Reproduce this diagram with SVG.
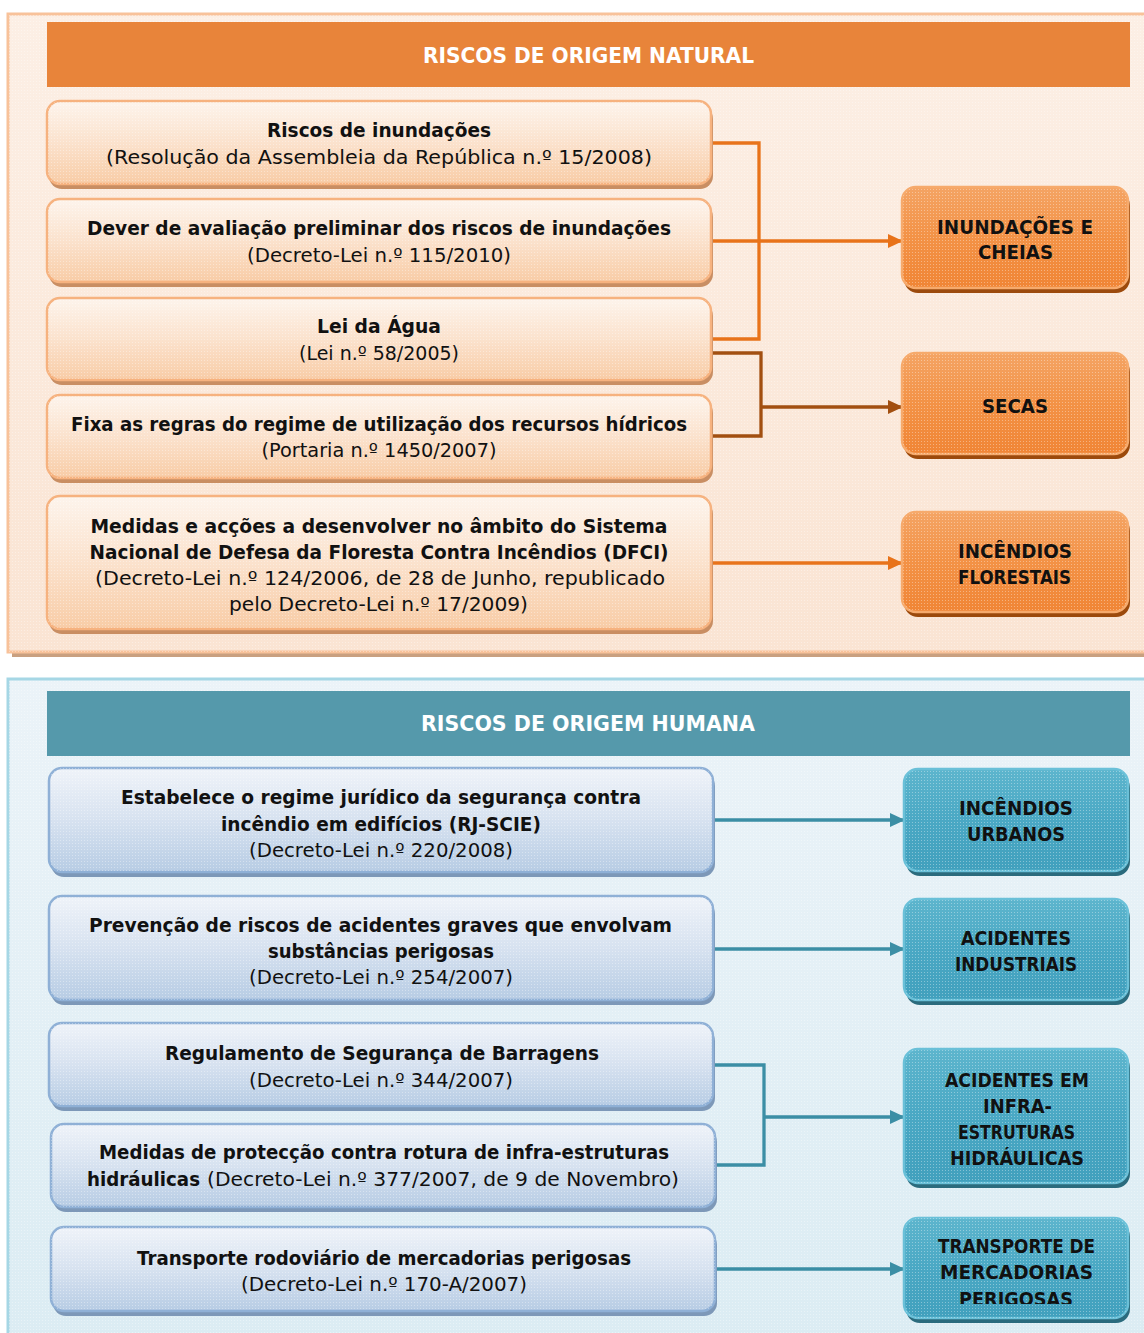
<svg xmlns="http://www.w3.org/2000/svg" width="1144" height="1333" viewBox="0 0 1144 1333">
<defs>
<style>
text{font-family:"DejaVu Sans","Liberation Sans",sans-serif;fill:#111;}
.b{font-weight:bold;font-size:19px;}
.r{font-weight:normal;font-size:19px;}
.lbl{font-weight:bold;font-size:20px;}
.ttl{font-weight:bold;font-size:21px;fill:#fff;}
.lo{fill:url(#gLO);stroke:#f6b27f;stroke-width:2.5;}
.lo-s{fill:#c98e63;}
.lb{fill:url(#gLB);stroke:#8fb0d6;stroke-width:2.5;}
.lb-s{fill:#7d98b8;}
.ro{fill:url(#gRO);stroke:#f6aa6c;stroke-width:2.5;}
.ro-s{fill:#9c4a0c;}
.rb{fill:url(#gRB);stroke:#6ac0d8;stroke-width:2.5;}
.rb-s{fill:#2b6b7d;}
.tex{fill:url(#dots);}
.co{fill:none;stroke:#e8731a;stroke-width:3.3;}
.cb{fill:none;stroke:#a24f10;stroke-width:3.3;}
.ct{fill:none;stroke:#3b8ea5;stroke-width:3.3;}
</style>
<linearGradient id="gPT" x1="0" y1="0" x2="0" y2="1"><stop offset="0" stop-color="#fcefe5"/><stop offset="1" stop-color="#fae4d3"/></linearGradient>
<linearGradient id="gPB" x1="0" y1="0" x2="0" y2="1"><stop offset="0" stop-color="#ebf3f8"/><stop offset="1" stop-color="#dbecf3"/></linearGradient>
<linearGradient id="gLO" x1="0" y1="0" x2="0" y2="1"><stop offset="0" stop-color="#fdf4ec"/><stop offset="0.5" stop-color="#fbe2cd"/><stop offset="1" stop-color="#f8cca6"/></linearGradient>
<linearGradient id="gLB" x1="0" y1="0" x2="0" y2="1"><stop offset="0" stop-color="#eff3f9"/><stop offset="0.5" stop-color="#d7e2f0"/><stop offset="1" stop-color="#b7cce4"/></linearGradient>
<linearGradient id="gRO" x1="0" y1="0" x2="0" y2="1"><stop offset="0" stop-color="#f4a464"/><stop offset="0.5" stop-color="#f39246"/><stop offset="1" stop-color="#f08535"/></linearGradient>
<linearGradient id="gRB" x1="0" y1="0" x2="0" y2="1"><stop offset="0" stop-color="#5db5cd"/><stop offset="0.5" stop-color="#4aa8c4"/><stop offset="1" stop-color="#41a0bd"/></linearGradient>
<pattern id="dots" width="3" height="3" patternUnits="userSpaceOnUse"><rect x="0" y="0" width="1" height="1" fill="#ffffff" fill-opacity="0.35"/></pattern>
<marker id="aO" markerUnits="userSpaceOnUse" markerWidth="16" markerHeight="16" refX="15" refY="8" orient="auto"><path d="M0,1 L15,8 L0,15 z" fill="#e8731a"/></marker>
<marker id="aB" markerUnits="userSpaceOnUse" markerWidth="16" markerHeight="16" refX="15" refY="8" orient="auto"><path d="M0,1 L15,8 L0,15 z" fill="#a24f10"/></marker>
<marker id="aT" markerUnits="userSpaceOnUse" markerWidth="16" markerHeight="16" refX="15" refY="8" orient="auto"><path d="M0,1 L15,8 L0,15 z" fill="#3b8ea5"/></marker>
<clipPath id="clipTr"><rect x="904" y="1218" width="226" height="86"/></clipPath>
</defs>

<rect x="0" y="0" width="1144" height="1333" fill="#ffffff"/>

<g id="panel-natural">
<rect x="12" y="650" width="1140" height="7" fill="#c9a080"/>
<rect x="8" y="14" width="1150" height="638" fill="url(#gPT)" stroke="#f8c29a" stroke-width="3"/>
<rect x="8" y="14" width="1150" height="638" class="tex"/>
</g>
<g id="header-natural">
<rect x="47" y="22" width="1083" height="65" fill="#e8843a"/>
<text class="ttl" x="588.5" y="63" text-anchor="middle" textLength="331" lengthAdjust="spacingAndGlyphs">RISCOS DE ORIGEM NATURAL</text>
</g>

<g id="panel-humana">
<rect x="8" y="679" width="1150" height="670" fill="url(#gPB)" stroke="#a6d7e5" stroke-width="3"/>
<rect x="8" y="679" width="1150" height="670" class="tex"/>
</g>
<g id="header-humana">
<rect x="47" y="691" width="1083" height="65" fill="#5599ab"/>
<text class="ttl" x="588" y="731" text-anchor="middle" textLength="334" lengthAdjust="spacingAndGlyphs">RISCOS DE ORIGEM HUMANA</text>
</g>

<g id="connectors">
<polyline class="co" points="712,143 759,143 759,339 712,339"/>
<line class="co" x1="712" y1="241" x2="903" y2="241" marker-end="url(#aO)"/>
<polyline class="cb" points="712,353 761,353 761,436 712,436"/>
<line class="cb" x1="761" y1="407" x2="903" y2="407" marker-end="url(#aB)"/>
<line class="co" x1="712" y1="563" x2="903" y2="563" marker-end="url(#aO)"/>
<line class="ct" x1="714" y1="820" x2="905" y2="820" marker-end="url(#aT)"/>
<line class="ct" x1="714" y1="949" x2="905" y2="949" marker-end="url(#aT)"/>
<polyline class="ct" points="714,1065 764,1065 764,1165 716,1165"/>
<line class="ct" x1="764" y1="1117" x2="905" y2="1117" marker-end="url(#aT)"/>
<line class="ct" x1="716" y1="1269" x2="905" y2="1269" marker-end="url(#aT)"/>
</g>

<g id="n-inundacoes-res">
<rect class="lo-s" x="49" y="106" width="664" height="83" rx="13"/>
<rect class="lo" x="47" y="101" width="664" height="83" rx="13"/>
<rect class="tex" x="47" y="101" width="664" height="83" rx="13"/>
<text class="b" x="379" y="137" text-anchor="middle" textLength="224" lengthAdjust="spacingAndGlyphs">Riscos de inundações</text>
<text class="r" x="379" y="164" text-anchor="middle" textLength="546" lengthAdjust="spacingAndGlyphs">(Resolução da Assembleia da República n.º 15/2008)</text>
</g>
<g id="n-dever">
<rect class="lo-s" x="49" y="204" width="664" height="83" rx="13"/>
<rect class="lo" x="47" y="199" width="664" height="83" rx="13"/>
<rect class="tex" x="47" y="199" width="664" height="83" rx="13"/>
<text class="b" x="379" y="235" text-anchor="middle" textLength="584" lengthAdjust="spacingAndGlyphs">Dever de avaliação preliminar dos riscos de inundações</text>
<text class="r" x="379" y="262" text-anchor="middle" textLength="264" lengthAdjust="spacingAndGlyphs">(Decreto-Lei n.º 115/2010)</text>
</g>
<g id="n-lei-agua">
<rect class="lo-s" x="49" y="303" width="664" height="82" rx="13"/>
<rect class="lo" x="47" y="298" width="664" height="82" rx="13"/>
<rect class="tex" x="47" y="298" width="664" height="82" rx="13"/>
<text class="b" x="379" y="333" text-anchor="middle" textLength="124" lengthAdjust="spacingAndGlyphs">Lei da Água</text>
<text class="r" x="379" y="360" text-anchor="middle" textLength="160" lengthAdjust="spacingAndGlyphs">(Lei n.º 58/2005)</text>
</g>
<g id="n-fixa">
<rect class="lo-s" x="49" y="400" width="664" height="83" rx="13"/>
<rect class="lo" x="47" y="395" width="664" height="83" rx="13"/>
<rect class="tex" x="47" y="395" width="664" height="83" rx="13"/>
<text class="b" x="379" y="431" text-anchor="middle" textLength="616" lengthAdjust="spacingAndGlyphs">Fixa as regras do regime de utilização dos recursos hídricos</text>
<text class="r" x="379" y="457" text-anchor="middle" textLength="235" lengthAdjust="spacingAndGlyphs">(Portaria n.º 1450/2007)</text>
</g>
<g id="n-dfci">
<rect class="lo-s" x="49" y="501" width="664" height="133" rx="13"/>
<rect class="lo" x="47" y="496" width="664" height="133" rx="13"/>
<rect class="tex" x="47" y="496" width="664" height="133" rx="13"/>
<text class="b" x="379" y="533" text-anchor="middle" textLength="577" lengthAdjust="spacingAndGlyphs">Medidas e acções a desenvolver no âmbito do Sistema</text>
<text class="b" x="379" y="559" text-anchor="middle" textLength="579" lengthAdjust="spacingAndGlyphs">Nacional de Defesa da Floresta Contra Incêndios (DFCI)</text>
<text class="r" x="380" y="585" text-anchor="middle" textLength="570" lengthAdjust="spacingAndGlyphs">(Decreto-Lei n.º 124/2006, de 28 de Junho, republicado</text>
<text class="r" x="378.5" y="611" text-anchor="middle" textLength="299" lengthAdjust="spacingAndGlyphs">pelo Decreto-Lei n.º 17/2009)</text>
</g>

<g id="n-inundacoes-cheias">
<rect class="ro-s" x="904" y="192" width="226" height="101" rx="14"/>
<rect class="ro" x="902" y="187" width="226" height="101" rx="14"/>
<rect class="tex" x="902" y="187" width="226" height="101" rx="14"/>
<text class="lbl" x="1015" y="234" text-anchor="middle" textLength="156" lengthAdjust="spacingAndGlyphs">INUNDAÇÕES E</text>
<text class="lbl" x="1015.5" y="259" text-anchor="middle" textLength="75" lengthAdjust="spacingAndGlyphs">CHEIAS</text>
</g>
<g id="n-secas">
<rect class="ro-s" x="904" y="358" width="226" height="101" rx="14"/>
<rect class="ro" x="902" y="353" width="226" height="101" rx="14"/>
<rect class="tex" x="902" y="353" width="226" height="101" rx="14"/>
<text class="lbl" x="1015" y="413" text-anchor="middle" textLength="66" lengthAdjust="spacingAndGlyphs">SECAS</text>
</g>
<g id="n-incendios-florestais">
<rect class="ro-s" x="904" y="517" width="226" height="100" rx="14"/>
<rect class="ro" x="902" y="512" width="226" height="100" rx="14"/>
<rect class="tex" x="902" y="512" width="226" height="100" rx="14"/>
<text class="lbl" x="1015" y="558" text-anchor="middle" textLength="114" lengthAdjust="spacingAndGlyphs">INCÊNDIOS</text>
<text class="lbl" x="1014.5" y="584" text-anchor="middle" textLength="113" lengthAdjust="spacingAndGlyphs">FLORESTAIS</text>
</g>

<g id="n-rjscie">
<rect class="lb-s" x="51" y="773" width="664" height="104" rx="13"/>
<rect class="lb" x="49" y="768" width="664" height="104" rx="13"/>
<rect class="tex" x="49" y="768" width="664" height="104" rx="13"/>
<text class="b" x="381" y="804" text-anchor="middle" textLength="520" lengthAdjust="spacingAndGlyphs">Estabelece o regime jurídico da segurança contra</text>
<text class="b" x="381" y="831" text-anchor="middle" textLength="320" lengthAdjust="spacingAndGlyphs">incêndio em edifícios (RJ-SCIE)</text>
<text class="r" x="381" y="857" text-anchor="middle" textLength="264" lengthAdjust="spacingAndGlyphs">(Decreto-Lei n.º 220/2008)</text>
</g>
<g id="n-substancias">
<rect class="lb-s" x="51" y="901" width="664" height="104" rx="13"/>
<rect class="lb" x="49" y="896" width="664" height="104" rx="13"/>
<rect class="tex" x="49" y="896" width="664" height="104" rx="13"/>
<text class="b" x="380.5" y="932" text-anchor="middle" textLength="583" lengthAdjust="spacingAndGlyphs">Prevenção de riscos de acidentes graves que envolvam</text>
<text class="b" x="381" y="958" text-anchor="middle" textLength="226" lengthAdjust="spacingAndGlyphs">substâncias perigosas</text>
<text class="r" x="381" y="984" text-anchor="middle" textLength="264" lengthAdjust="spacingAndGlyphs">(Decreto-Lei n.º 254/2007)</text>
</g>
<g id="n-barragens">
<rect class="lb-s" x="51" y="1028" width="664" height="83" rx="13"/>
<rect class="lb" x="49" y="1023" width="664" height="83" rx="13"/>
<rect class="tex" x="49" y="1023" width="664" height="83" rx="13"/>
<text class="b" x="382" y="1060" text-anchor="middle" textLength="434" lengthAdjust="spacingAndGlyphs">Regulamento de Segurança de Barragens</text>
<text class="r" x="381" y="1087" text-anchor="middle" textLength="264" lengthAdjust="spacingAndGlyphs">(Decreto-Lei n.º 344/2007)</text>
</g>
<g id="n-rotura">
<rect class="lb-s" x="53" y="1129" width="664" height="83" rx="13"/>
<rect class="lb" x="51" y="1124" width="664" height="83" rx="13"/>
<rect class="tex" x="51" y="1124" width="664" height="83" rx="13"/>
<text class="b" x="384" y="1159" text-anchor="middle" textLength="570" lengthAdjust="spacingAndGlyphs">Medidas de protecção contra rotura de infra-estruturas</text>
<text class="b" x="87" y="1186" textLength="113" lengthAdjust="spacingAndGlyphs">hidráulicas</text>
<text class="r" x="207" y="1186" textLength="472" lengthAdjust="spacingAndGlyphs">(Decreto-Lei n.º 377/2007, de 9 de Novembro)</text>
</g>
<g id="n-transporte">
<rect class="lb-s" x="53" y="1232" width="664" height="84" rx="13"/>
<rect class="lb" x="51" y="1227" width="664" height="84" rx="13"/>
<rect class="tex" x="51" y="1227" width="664" height="84" rx="13"/>
<text class="b" x="384" y="1265" text-anchor="middle" textLength="494" lengthAdjust="spacingAndGlyphs">Transporte rodoviário de mercadorias perigosas</text>
<text class="r" x="384" y="1291" text-anchor="middle" textLength="286" lengthAdjust="spacingAndGlyphs">(Decreto-Lei n.º 170-A/2007)</text>
</g>

<g id="n-incendios-urbanos">
<rect class="rb-s" x="906" y="774" width="224" height="102" rx="14"/>
<rect class="rb" x="904" y="769" width="224" height="102" rx="14"/>
<rect class="tex" x="904" y="769" width="224" height="102" rx="14"/>
<text class="lbl" x="1016" y="815" text-anchor="middle" textLength="114" lengthAdjust="spacingAndGlyphs">INCÊNDIOS</text>
<text class="lbl" x="1016" y="841" text-anchor="middle" textLength="98" lengthAdjust="spacingAndGlyphs">URBANOS</text>
</g>
<g id="n-acidentes-industriais">
<rect class="rb-s" x="906" y="904" width="224" height="101" rx="14"/>
<rect class="rb" x="904" y="899" width="224" height="101" rx="14"/>
<rect class="tex" x="904" y="899" width="224" height="101" rx="14"/>
<text class="lbl" x="1016" y="945" text-anchor="middle" textLength="110" lengthAdjust="spacingAndGlyphs">ACIDENTES</text>
<text class="lbl" x="1016" y="971" text-anchor="middle" textLength="122" lengthAdjust="spacingAndGlyphs">INDUSTRIAIS</text>
</g>
<g id="n-acidentes-infra">
<rect class="rb-s" x="906" y="1054" width="224" height="134" rx="14"/>
<rect class="rb" x="904" y="1049" width="224" height="134" rx="14"/>
<rect class="tex" x="904" y="1049" width="224" height="134" rx="14"/>
<text class="lbl" x="1017" y="1087" text-anchor="middle" textLength="144" lengthAdjust="spacingAndGlyphs">ACIDENTES EM</text>
<text class="lbl" x="1017.5" y="1113" text-anchor="middle" textLength="69" lengthAdjust="spacingAndGlyphs">INFRA-</text>
<text class="lbl" x="1016.5" y="1139" text-anchor="middle" textLength="117" lengthAdjust="spacingAndGlyphs">ESTRUTURAS</text>
<text class="lbl" x="1017" y="1165" text-anchor="middle" textLength="134" lengthAdjust="spacingAndGlyphs">HIDRÁULICAS</text>
</g>
<g id="n-transporte-mercadorias">
<rect class="rb-s" x="906" y="1223" width="224" height="100" rx="14"/>
<rect class="rb" x="904" y="1218" width="224" height="100" rx="14"/>
<rect class="tex" x="904" y="1218" width="224" height="100" rx="14"/>
<text class="lbl" x="1016.5" y="1253" text-anchor="middle" textLength="157" lengthAdjust="spacingAndGlyphs">TRANSPORTE DE</text>
<text class="lbl" x="1016.5" y="1279" text-anchor="middle" textLength="153" lengthAdjust="spacingAndGlyphs">MERCADORIAS</text>
<g clip-path="url(#clipTr)"><text class="lbl" x="1016" y="1306" text-anchor="middle" textLength="114" lengthAdjust="spacingAndGlyphs">PERIGOSAS</text></g>
</g>
</svg>
